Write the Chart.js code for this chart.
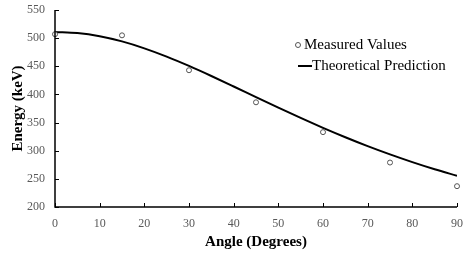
<!DOCTYPE html>
<html>
<head>
<meta charset="utf-8">
<script src="https://cdn.jsdelivr.net/npm/chart.js@4"></script>
<style>
  html, body { margin: 0; padding: 0; background: #fff; }
  #wrap { width: 471px; height: 255px; }
</style>
</head>
<body>
<div id="wrap"><canvas id="chart" width="471" height="255"></canvas></div>
<script>
// measured points
const measuredAngles = [0, 15, 30, 45, 60, 75, 90];
const measuredEnergy = [507, 505, 443, 386, 333, 279, 237];

// theoretical curve, read every 5 degrees
const theoryAngles = [0, 5, 10, 15, 20, 25, 30, 35, 40, 45, 50, 55, 60, 65, 70, 75, 80, 85, 90];
const theoryEnergy = [511, 509, 503.4, 494.2, 481.9, 467.2, 450.6, 432.7, 414.1, 395.2,
  376.5, 358.2, 340.7, 324, 308.2, 293.5, 279.8, 267.1, 255.5];

const xTicks = [0, 10, 20, 30, 40, 50, 60, 70, 80, 90];
const yTicks = [200, 250, 300, 350, 400, 450, 500, 550];

const serif = '"Liberation Serif", "Times New Roman", serif';

// inward tick marks + axis lines
const axisMarks = {
  id: 'axisMarks',
  afterDatasetsDraw(chart) {
    const { ctx, chartArea, scales } = chart;
    ctx.save();
    ctx.strokeStyle = '#000';
    ctx.lineWidth = 1.5;
    ctx.beginPath();
    ctx.moveTo(chartArea.left, chartArea.top);
    ctx.lineTo(chartArea.left, chartArea.bottom);
    ctx.lineTo(chartArea.right, chartArea.bottom);
    ctx.stroke();
    ctx.lineWidth = 1;
    ctx.beginPath();
    xTicks.forEach(v => {
      const x = Math.round(scales.x.getPixelForValue(v)) + 0.5;
      ctx.moveTo(x, chartArea.bottom);
      ctx.lineTo(x, chartArea.bottom - 4);
    });
    yTicks.forEach(v => {
      const y = Math.round(scales.y.getPixelForValue(v)) + 0.5;
      ctx.moveTo(chartArea.left, y);
      ctx.lineTo(chartArea.left + 4, y);
    });
    ctx.stroke();
    ctx.restore();
  }
};

// legend drawn inside the plot
const insideLegend = {
  id: 'insideLegend',
  afterDraw(chart) {
    const { ctx } = chart;
    const ds = chart.data.datasets;
    ctx.save();
    ctx.font = '15px ' + serif;
    ctx.fillStyle = '#000';
    ctx.textBaseline = 'middle';
    // measured
    ctx.beginPath();
    ctx.arc(298, 45, 2.5, 0, Math.PI * 2);
    ctx.strokeStyle = '#555';
    ctx.lineWidth = 1;
    ctx.stroke();
    ctx.fillText(ds[0].label, 304, 45);
    // theory
    ctx.strokeStyle = '#000';
    ctx.lineWidth = 2;
    ctx.beginPath();
    ctx.moveTo(298, 66);
    ctx.lineTo(312, 66);
    ctx.stroke();
    ctx.fillText(ds[1].label, 312, 66);
    ctx.restore();
  }
};

new Chart(document.getElementById('chart'), {
  type: 'scatter',
  data: {
    datasets: [
      {
        label: 'Measured Values',
        data: measuredAngles.map((a, i) => ({ x: a, y: measuredEnergy[i] })),
        pointStyle: 'circle',
        pointRadius: 2.5,
        pointBorderWidth: 1,
        pointBorderColor: '#555',
        pointBackgroundColor: '#fff',
        clip: false
      },
      {
        label: 'Theoretical Prediction',
        data: theoryAngles.map((a, i) => ({ x: a, y: theoryEnergy[i] })),
        showLine: true,
        borderColor: '#000',
        borderWidth: 2,
        pointRadius: 0,
        cubicInterpolationMode: 'monotone'
      }
    ]
  },
  options: {
    responsive: false,
    animation: false,
    layout: { padding: { top: 10, right: 14, left: 0, bottom: 0 } },
    plugins: { legend: { display: false }, tooltip: { enabled: false } },
    scales: {
      x: {
        type: 'linear',
        min: 0, max: 90,
        afterBuildTicks: s => { s.ticks = xTicks.map(v => ({ value: v })); },
        afterFit: s => { s.height = 48; },
        grid: { display: false },
        border: { display: false },
        ticks: { color: '#595959', font: { family: serif, size: 12 }, padding: 2, maxRotation: 0 },
        title: { display: true, text: 'Angle (Degrees)', color: '#000',
          font: { family: serif, size: 15, weight: 'bold' }, padding: { top: 0 } }
      },
      y: {
        min: 200, max: 550,
        afterBuildTicks: s => { s.ticks = yTicks.map(v => ({ value: v })); },
        afterFit: s => { s.width = 55; },
        grid: { display: false },
        border: { display: false },
        ticks: { color: '#595959', font: { family: serif, size: 12 }, padding: 2 },
        title: { display: true, text: 'Energy (keV)', color: '#000',
          font: { family: serif, size: 15, weight: 'bold' }, padding: { top: 9, bottom: 0 } }
      }
    }
  },
  plugins: [axisMarks, insideLegend]
});
</script>
</body>
</html>
